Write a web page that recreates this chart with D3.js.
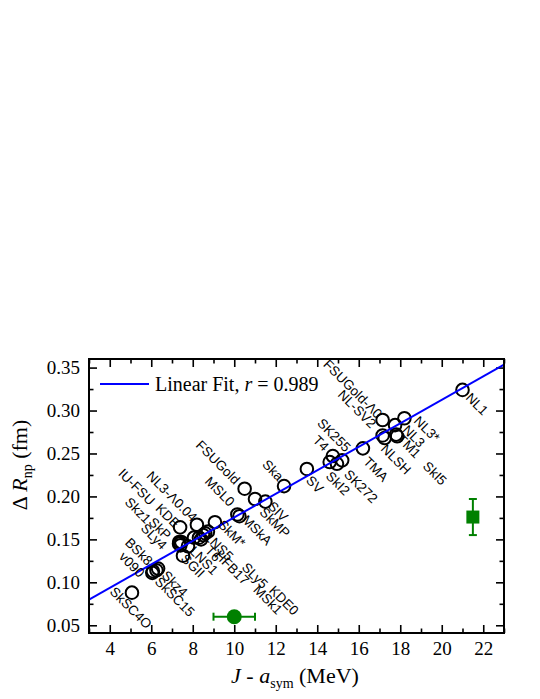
<!DOCTYPE html>
<html><head><meta charset="utf-8">
<script src="https://cdn.jsdelivr.net/npm/d3@7"></script>
<style>body{margin:0;background:#fff}svg{display:block}</style>
</head><body><svg id="c" width="540" height="699"></svg>
<script>
// ---- data ----
const models = ["NL1","NL3*","FSUGold-Λ0","NL3","NL-SV2","TM1","NLSH","SkI5","TMA","SK255","T4","SkI2","SK272","SV","Ska","FSUGold","SIV","SkMP","MSL0","MSkA",
  "IU-FSU","KDE","NL3-Λ0.04","Skz1","SkP","SLy4","SkM*","LNS5","T6","LNS1","SGII","HFB17","SLy5","KDE0","MSk1","BSk8","v090","Skz4","SkSC15","SkSC4O"];
const jMinusAsym = [21.0,18.2,17.15,17.75,17.15,17.85,17.25,17.8,16.2,14.75,14.6,14.95,15.2,13.5,12.4,10.5,11.5,11.0,10.15,10.25,
  7.39,7.35,8.2,7.34,7.45,7.4,9.07,8.73,8.4,8.06,7.53,8.5,8.6,8.3,7.77,6.08,6.05,6.33,6.25,5.07];
const deltaRnp = [0.324,0.291,0.289,0.283,0.271,0.270,0.268,0.272,0.256,0.247,0.240,0.238,0.242,0.232,0.212,0.209,0.194,0.197,0.179,0.177,
  0.164,0.147,0.167,0.145,0.147,0.143,0.170,0.159,0.150,0.152,0.131,0.155,0.157,0.152,0.142,0.113,0.111,0.116,0.114,0.088];
// label centres (in data units)
const labelJ = [21.70,19.29,15.72,18.66,15.92,18.42,17.80,19.67,16.83,14.81,14.18,15.0,16.11,13.89,11.87,9.22,12.11,11.96,9.31,11.10,
  5.30,6.80,7.0,5.36,6.42,6.13,9.89,9.27,8.98,8.54,8.01,9.89,11.0,12.40,11.63,5.41,5.07,7.14,7.14,5.02];
const labelR = [0.3076,0.2784,0.3251,0.2702,0.3018,0.2585,0.2433,0.2270,0.2317,0.2714,0.2620,0.2153,0.2118,0.2141,0.2305,0.2398,0.1826,0.1697,0.2058,0.1609,
  0.2112,0.1775,0.2001,0.1839,0.1627,0.1534,0.1569,0.1417,0.1335,0.1253,0.1195,0.1172,0.1078,0.0790,0.0798,0.1359,0.1206,0.0985,0.0833,0.0704];
const fitSlope = 0.01369, fitIntercept = 0.0387, fitR = "0.989";
const expCircle = {j:10.0, jErr:1.0, r:0.060};
const expSquare = {j:21.5, r:0.176, rErr:0.021};
const xMajor = [4,6,8,10,12,14,16,18,20,22];
const xMinor = [3,5,7,9,11,13,15,17,19,21,23];
const yMajor = [0.05,0.10,0.15,0.20,0.25,0.30,0.35];
const yMinor = [0.075,0.125,0.175,0.225,0.275,0.325];

// ---- layout ----
const L=89, R=504, T=359, B=633;
const svg = d3.select("#c");
const x = d3.scaleLinear().domain([3,23]).range([L,R]);
const y = d3.scaleLinear().domain([0.041,0.36]).range([B,T]);
const serif = "'Liberation Serif','Times New Roman',serif";
const sans = "'Liberation Sans',Arial,sans-serif";

function axis(gen, tr, vals, size, lab, fmt){
  const g = svg.append("g").attr("transform",tr)
    .call(gen.tickValues(vals).tickSize(-size).tickPadding(lab?9:0).tickFormat(lab?fmt:()=>""));
  g.select(".domain").remove();
  g.selectAll(".tick line").attr("stroke","#000").attr("stroke-width",1.6);
  g.selectAll("text").attr("font-family",serif).attr("font-size",19).attr("fill","#000");
  return g;
}
const yf = d3.format(".2f");
axis(d3.axisBottom(x),`translate(0,${B})`,xMajor,8,true,d3.format("d"));
axis(d3.axisBottom(x),`translate(0,${B})`,xMinor,4.5,false);
axis(d3.axisTop(x),`translate(0,${T})`,xMajor,8,false);
axis(d3.axisTop(x),`translate(0,${T})`,xMinor,4.5,false);
axis(d3.axisLeft(y),`translate(${L},0)`,yMajor,8,true,yf);
axis(d3.axisLeft(y),`translate(${L},0)`,yMinor,4.5,false);
axis(d3.axisRight(y),`translate(${R},0)`,yMajor,8,false);
axis(d3.axisRight(y),`translate(${R},0)`,yMinor,4.5,false);

// clip
svg.append("clipPath").attr("id","clip").append("rect").attr("x",L).attr("y",T).attr("width",R-L).attr("height",B-T);

// circles
svg.append("g").selectAll("circle").data(models).join("circle")
  .attr("cx",(d,i)=>x(jMinusAsym[i])).attr("cy",(d,i)=>y(deltaRnp[i])).attr("r",6.3)
  .attr("fill","none").attr("stroke","#000").attr("stroke-width",2);

// fit line
svg.append("line").attr("clip-path","url(#clip)")
  .attr("x1",x(3)).attr("y1",y(fitIntercept+fitSlope*3))
  .attr("x2",x(23)).attr("y2",y(fitIntercept+fitSlope*23))
  .attr("stroke","#0000ff").attr("stroke-width",2);

// labels
svg.append("g").selectAll("text").data(models).join("text")
  .attr("transform",(d,i)=>`translate(${x(labelJ[i])},${y(labelR[i])}) rotate(45)`)
  .attr("text-anchor","middle").attr("dy","0.35em")
  .attr("font-family",sans).attr("font-size",13.5).attr("fill","#000").text(d=>d);

// experimental points
const green = "#008000";
const ge = svg.append("g").attr("stroke",green).attr("stroke-width",2);
ge.append("line").attr("x1",x(expCircle.j-expCircle.jErr)).attr("x2",x(expCircle.j+expCircle.jErr)).attr("y1",y(expCircle.r)).attr("y2",y(expCircle.r));
[expCircle.j-expCircle.jErr, expCircle.j+expCircle.jErr].forEach(v=>
  ge.append("line").attr("x1",x(v)).attr("x2",x(v)).attr("y1",y(expCircle.r)-4).attr("y2",y(expCircle.r)+4));
svg.append("circle").attr("cx",x(expCircle.j)).attr("cy",y(expCircle.r)).attr("r",7.5).attr("fill",green);
ge.append("line").attr("x1",x(expSquare.j)).attr("x2",x(expSquare.j)).attr("y1",y(expSquare.r-expSquare.rErr)).attr("y2",y(expSquare.r+expSquare.rErr));
[expSquare.r-expSquare.rErr, expSquare.r+expSquare.rErr].forEach(v=>
  ge.append("line").attr("x1",x(expSquare.j)-4).attr("x2",x(expSquare.j)+4).attr("y1",y(v)).attr("y2",y(v)));
svg.append("rect").attr("x",x(expSquare.j)-6.5).attr("y",y(expSquare.r)-6.5).attr("width",13).attr("height",13).attr("fill",green);

// frame
svg.append("rect").attr("x",L).attr("y",T).attr("width",R-L).attr("height",B-T)
  .attr("fill","none").attr("stroke","#000").attr("stroke-width",2);

// legend
svg.append("line").attr("x1",100).attr("x2",149).attr("y1",384).attr("y2",384).attr("stroke","#0000ff").attr("stroke-width",2);
const lt = svg.append("text").attr("x",155).attr("y",391).attr("font-family",serif).attr("font-size",20).attr("fill","#000");
lt.append("tspan").text("Linear Fit, ");
lt.append("tspan").attr("font-style","italic").text("r");
lt.append("tspan").text(" = "+fitR);

// axis titles
const xt = svg.append("text").attr("x",295).attr("y",683).attr("text-anchor","middle").attr("font-family",serif).attr("font-size",22).attr("fill","#000");
xt.append("tspan").attr("font-style","italic").text("J");
xt.append("tspan").text(" - ");
xt.append("tspan").attr("font-style","italic").text("a");
xt.append("tspan").attr("font-size",14).attr("dy",5).text("sym");
xt.append("tspan").attr("dy",-5).text(" (MeV)");

const yt = svg.append("text").attr("transform","translate(27,465) rotate(-90)").attr("text-anchor","middle").attr("font-family",serif).attr("font-size",22).attr("fill","#000");
yt.append("tspan").text("Δ ");
yt.append("tspan").attr("font-style","italic").text("R");
yt.append("tspan").attr("font-size",14).attr("dy",5).text("np");
yt.append("tspan").attr("dy",-5).text(" (fm)");
</script></body></html>
